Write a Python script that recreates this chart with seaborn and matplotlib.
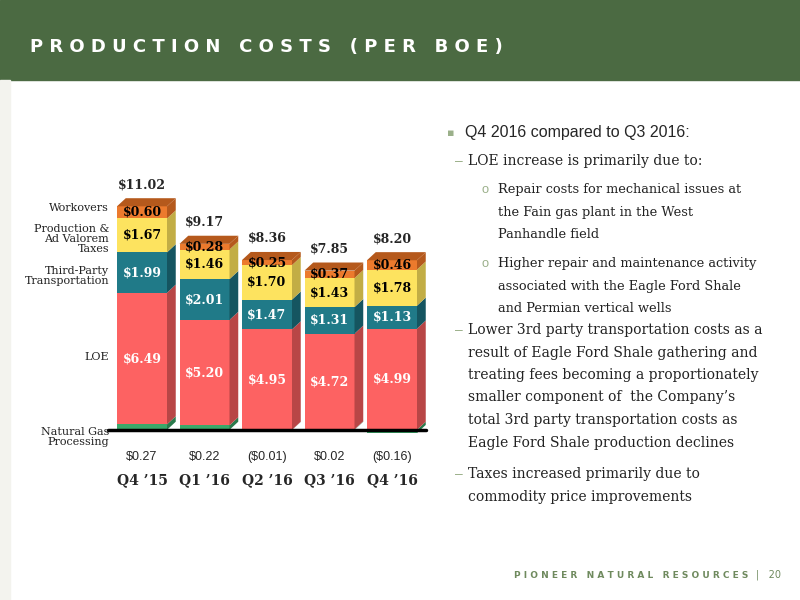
import matplotlib.pyplot as plt
import matplotlib.patches as mpatches
import seaborn as sns
import numpy as np

quarters = ["Q4 \u201915", "Q1 \u201916", "Q2 \u201916", "Q3 \u201916", "Q4 \u201916"]
ngp = [0.27, 0.22, -0.01, 0.02, -0.16]
ngp_labels = ["$0.27", "$0.22", "($0.01)", "$0.02", "($0.16)"]
loe = [6.49, 5.20, 4.95, 4.72, 4.99]
transport = [1.99, 2.01, 1.47, 1.31, 1.13]
taxes = [1.67, 1.46, 1.70, 1.43, 1.78]
workovers = [0.60, 0.28, 0.25, 0.37, 0.46]
totals = ["$11.02", "$9.17", "$8.36", "$7.85", "$8.20"]

sns.set_theme(style="white")
plt.rcParams['font.family'] = ['DejaVu Serif']

fig = plt.figure(figsize=(8, 6), dpi=100)
fig.patch.set_facecolor("white")
# header band
fig.add_artist(mpatches.Rectangle((0, 1 - 80/600), 1, 80/600, transform=fig.transFigure,
                                  color="#4b6a42", zorder=0))
fig.text(30/800, 1 - 47/600, "P R O D U C T I O N   C O S T S   ( P E R   B O E )",
         color="white", fontsize=13, family="DejaVu Sans", va="center", fontweight="bold")
fig.add_artist(mpatches.Rectangle((0, 0), 10/800, 520/600, transform=fig.transFigure,
                                  color="#f3f3ee", zorder=0))

ax = fig.add_axes([104.5/800, (600-442)/600, 325/800, 251.5/600])
ax.set_xlim(-0.6, 4.6)
ax.set_ylim(-0.6, 11.8)
ax.axis("off")

x = np.arange(len(quarters))
w = 0.8
dx, dy = 0.14, 0.4
layers = [
    (loe, "#fd6262", "#b84646", "white"),
    (transport, "#207a88", "#155560", "white"),
    (taxes, "#fde35f", "#c2ad45", "black"),
    (workovers, "#ec7a2d", "#b5591c", "black"),
]

def side(ax, xi, y0, h, col):
    r = xi + w/2
    ax.add_patch(mpatches.Polygon([(r, y0), (r + dx, y0 + dy), (r + dx, y0 + h + dy), (r, y0 + h)],
                                  closed=True, color=col, lw=0))

# natural gas processing
for i in range(len(x)):
    b = 0 if ngp[i] >= 0 else ngp[i]
    ax.bar(x[i], abs(ngp[i]), bottom=b, width=w, color="#3aa86a", lw=0)
    side(ax, x[i], b, abs(ngp[i]), "#2a7a4c")

bottoms = np.array([max(v, 0) for v in ngp])
for vals, col, dark, tcol in layers:
    ax.bar(x, vals, bottom=bottoms, width=w, color=col, lw=0)
    for i in range(len(x)):
        side(ax, x[i], bottoms[i], vals[i], dark)
        ax.text(x[i], bottoms[i] + vals[i]/2, f"${vals[i]:.2f}", ha="center", va="center",
                color=tcol, fontsize=9, fontweight="bold")
    bottoms = bottoms + np.array(vals)

for i in range(len(x)):
    top = bottoms[i]
    l, r = x[i] - w/2, x[i] + w/2
    ax.add_patch(mpatches.Polygon([(l, top), (l + dx, top + dy), (r + dx, top + dy), (r, top)],
                                  closed=True, color="#b5591c", lw=0))
    ax.text(x[i], top + 0.75, totals[i], ha="center", va="bottom", fontsize=9, fontweight="bold")
    ax.text(x[i], -1.35, ngp_labels[i], ha="center", va="center", fontsize=9,
            family="Liberation Sans", clip_on=False)
    ax.text(x[i], -2.5, quarters[i], ha="center", va="center", fontsize=10,
            fontweight="bold", clip_on=False)

ax.plot([-0.55, 4.55], [0, 0], color="black", lw=2.5, zorder=5, clip_on=False)

cat_labels = [("Workovers", 208), ("Production &\nAd Valorem\nTaxes", 239),
              ("Third-Party\nTransportation", 276), ("LOE", 357), ("Natural Gas\nProcessing", 437)]
for t, yp in cat_labels:
    fig.text(109/800, 1 - yp/600, t, ha="right", va="center", fontsize=8,
             linespacing=1.0, color="#222222")

# right text
sans = "Liberation Sans"
fig.text(447/800, 1 - 133/600, "\u25aa", color="#9bb08a", fontsize=8, va="center", family="DejaVu Sans")
fig.text(465/800, 1 - 133/600, "Q4 2016 compared to Q3 2016:", fontsize=11.5, va="center", family=sans)
items = [
    ("d", 161, ["LOE increase is primarily due to:"]),
    ("o", 190, ["Repair costs for mechanical issues at", "the Fain gas plant in the West", "Panhandle field"]),
    ("o", 264, ["Higher repair and maintenance activity", "associated with the Eagle Ford Shale", "and Permian vertical wells"]),
    ("d", 330, ["Lower 3rd party transportation costs as a", "result of Eagle Ford Shale gathering and",
                "treating fees becoming a proportionately", "smaller component of  the Company\u2019s",
                "total 3rd party transportation costs as", "Eagle Ford Shale production declines"]),
    ("d", 474, ["Taxes increased primarily due to", "commodity price improvements"]),
]
for kind, y0, lines in items:
    if kind == "d":
        mx, tx, fs = 455, 468, 10
        mark = "\u2013"
    else:
        mx, tx, fs = 482, 498, 9.3
        mark = "o"
    fig.text(mx/800, 1 - y0/600, mark, fontsize=fs, va="center", color="#9bb08a", family=sans)
    for k, ln in enumerate(lines):
        fig.text(tx/800, 1 - (y0 + k*22.5)/600, ln, fontsize=fs, va="center", color="#222222")

fig.text(748/800, 1 - 575/600, "P I O N E E R   N A T U R A L   R E S O U R C E S", ha="right",
         va="center", fontsize=6.5, color="#6f8a5e", family="DejaVu Sans", fontweight="bold")
fig.text(756/800, 1 - 575/600, "|   20", ha="left", va="center", fontsize=7, color="#6f8a5e",
         family="DejaVu Sans")

fig.savefig("out.png", dpi=100)
